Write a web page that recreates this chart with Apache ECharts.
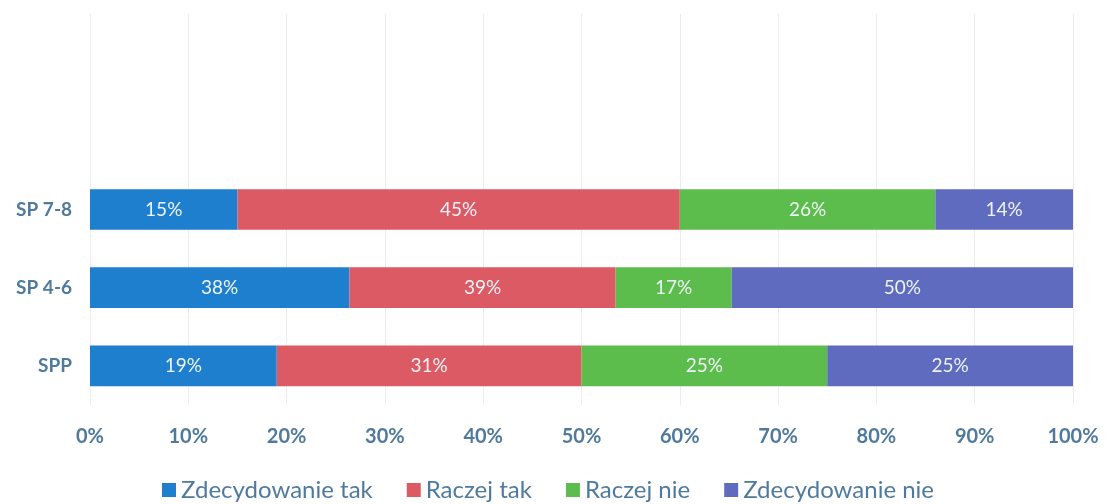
<!DOCTYPE html>
<html>
<head>
<meta charset="utf-8">
<script src="https://cdn.jsdelivr.net/npm/echarts@6/dist/echarts.min.js"></script>
<style>
  html, body { margin: 0; padding: 0; background: #fff; }
  #chart { width: 1106px; height: 504px; }
</style>
</head>
<body>
<div id="chart"></div>
<script>
// kategorie (od dołu), dwa puste wiersze na górze jak w oryginale
var categories = ['SPP', 'SP 4-6', 'SP 7-8', '', ''];
var seriesNames = ['Zdecydowanie tak', 'Raczej tak', 'Raczej nie', 'Zdecydowanie nie'];
var zdecydowanieTak = [19, 38, 15];
var raczejTak = [31, 39, 45];
var raczejNie = [25, 17, 26];
var zdecydowanieNie = [25, 50, 14];
var xTicks = [0, 10, 20, 30, 40, 50, 60, 70, 80, 90, 100];

var colors = ['#1f7fcf', '#dc5a64', '#5dbd4c', '#5e6bbf'];
var raw = [zdecydowanieTak, raczejTak, raczejNie, zdecydowanieNie];

// 100% skumulowane - udział każdej wartości w sumie wiersza
var totals = zdecydowanieTak.map(function (v, i) {
  return raw.reduce(function (s, arr) { return s + arr[i]; }, 0);
});

var series = raw.map(function (arr, k) {
  return {
    name: seriesNames[k],
    type: 'bar',
    stack: 'all',
    barWidth: '52%',
    itemStyle: { color: colors[k] },
    label: {
      show: true,
      color: '#eef3f8',
      fontFamily: 'Lato',
      fontSize: 19,
      formatter: function (p) { return raw[k][p.dataIndex] + '%'; }
    },
    data: arr.map(function (v, i) { return v / totals[i] * 100; })
  };
});

var chart = echarts.init(document.getElementById('chart'));
chart.setOption({
  animation: false,
  textStyle: { fontFamily: 'Lato' },
  grid: { left: 90, right: 33, top: 14, bottom: 99 },
  legend: {
    bottom: -3,
    left: 157,
    itemWidth: 14,
    itemHeight: 14,
    itemGap: 34,
    icon: 'rect',
    textStyle: { color: '#4f7a9e', fontSize: 24, fontFamily: 'Lato' },
    data: seriesNames
  },
  xAxis: {
    type: 'value',
    min: 0,
    max: 100,
    interval: 10,
    axisLine: { show: false },
    axisTick: { show: false },
    splitLine: { lineStyle: { color: '#ececf0' } },
    axisLabel: {
      color: '#4f7a9e',
      fontSize: 20,
      fontWeight: 'bold',
      margin: 22,
      formatter: function (v) { return xTicks.indexOf(v) >= 0 ? v + '%' : ''; }
    }
  },
  yAxis: {
    type: 'category',
    data: categories,
    axisLine: { show: false },
    axisTick: { show: false },
    axisLabel: { color: '#4f7a9e', fontSize: 19, fontWeight: 'bold', margin: 18 }
  },
  series: series
});
</script>
</body>
</html>
